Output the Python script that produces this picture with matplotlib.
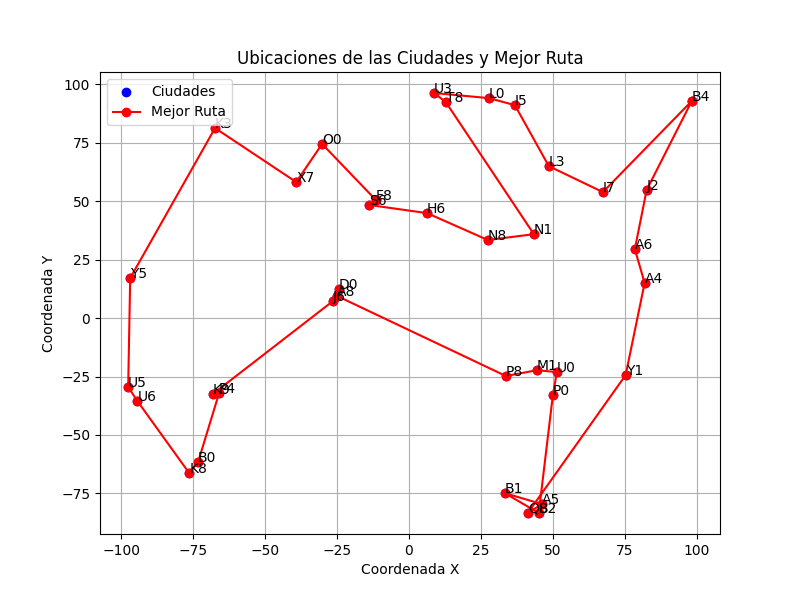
import matplotlib
matplotlib.use("Agg")
from matplotlib import pyplot as plt

# route order, closed at the end by going back to the first city
names = ['B4', 'I7', 'L3', 'I5', 'L0', 'U3', 'T8', 'N1', 'N8', 'H6', 'S6', 'F8',
         'O0', 'X7', 'K3', 'Y5', 'U5', 'U6', 'K8', 'B0', 'P4', 'K9', 'J6', 'D0',
         'A8', 'P8', 'M1', 'U0', 'P0', 'B2', 'B1', 'A5', 'Q8', 'Y1', 'A4', 'A6', 'J2']
xs = [98.3, 67.4, 48.6, 36.8, 27.8, 8.7, 12.8, 43.4, 27.4, 6.3, -13.9, -11.5,
      -30.2, -39.2, -67.4, -96.9, -97.6, -94.4, -76.4, -73.3, -66.0, -68.2, -26.4, -24.3,
      -24.9, 33.7, 44.4, 51.4, 50.0, 45.1, 33.3, 46.2, 41.3, 75.3, 81.9, 78.5, 82.6]
ys = [92.9, 53.9, 65.0, 91.1, 94.1, 96.3, 92.4, 35.9, 33.4, 44.9, 48.4, 50.5,
      74.5, 58.2, 81.3, 17.1, -29.5, -35.5, -66.3, -61.6, -32.1, -32.5, 7.3, 12.4,
      9.4, -24.8, -22.3, -23.1, -33.0, -83.4, -74.9, -79.6, -83.4, -24.4, 15.0, 29.5, 54.8]

fig, ax = plt.subplots(figsize=(8, 6), dpi=100)

ax.scatter(xs, ys, color='blue', label='Ciudades')
for name, x, y in zip(names, xs, ys):
    ax.text(x, y, name)

ax.plot(xs + xs[:1], ys + ys[:1], color='red', marker='o', label='Mejor Ruta')

ax.set_title('Ubicaciones de las Ciudades y Mejor Ruta')
ax.set_xlabel('Coordenada X')
ax.set_ylabel('Coordenada Y')
ax.grid(True)
ax.legend(loc='upper left')

fig.savefig('out.png', dpi=100)
